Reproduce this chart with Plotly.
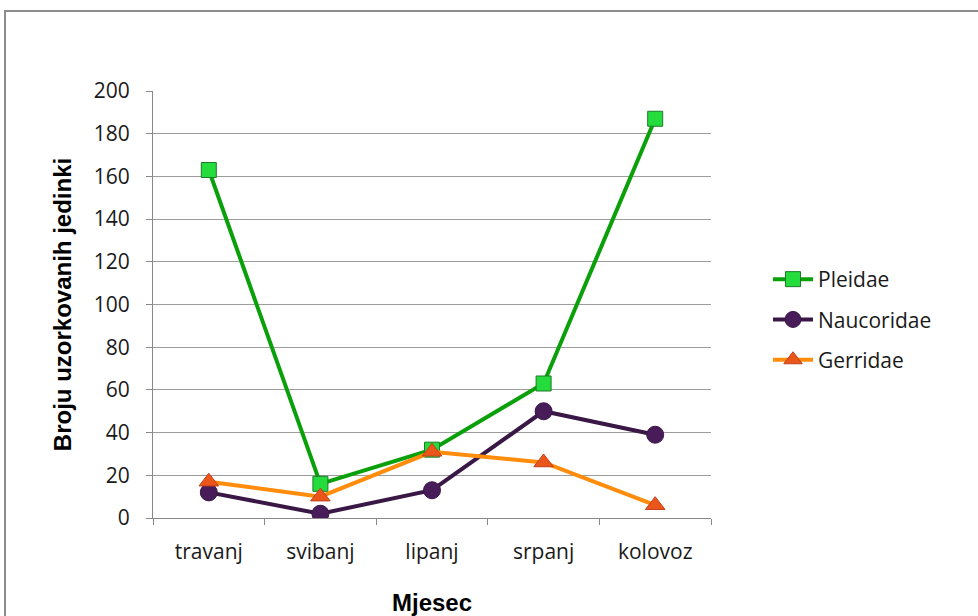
import plotly.graph_objects as go

months = ["travanj", "svibanj", "lipanj", "srpanj", "kolovoz"]
pleidae = [163, 16, 32, 63, 187]
naucoridae = [12, 2, 13, 50, 39]
gerridae = [17, 10, 31, 26, 6]
y_ticks = [0, 20, 40, 60, 80, 100, 120, 140, 160, 180, 200]

W, H = 978, 616
L, R, T, B = 153, 711, 91, 518

fig = go.Figure()
fig.add_trace(go.Scatter(
    x=months, y=pleidae, name="Pleidae", mode="lines+markers", legendgroup="a",
    line=dict(color="#0aa00a", width=4),
    marker=dict(symbol="square", size=15, color="#24dd3c", line=dict(color="#1e7a2a", width=1))))
fig.add_trace(go.Scatter(
    x=months, y=naucoridae, name="Naucoridae", mode="lines+markers", legendgroup="b",
    line=dict(color="#3a1846", width=4),
    marker=dict(symbol="circle", size=17, color="#481c58", line=dict(color="#3a1846", width=1))))
fig.add_trace(go.Scatter(
    x=months, y=gerridae, name="Gerridae", mode="lines+markers", legendgroup="c",
    line=dict(color="#ff8c0a", width=4),
    marker=dict(symbol="triangle-up", size=17, color="#ea561a", line=dict(color="#c0401a", width=1))))


def px(x):
    return (x - L) / (R - L)


def py(y):
    return (B - y) / (B - T)


fig.add_shape(type="rect", xref="paper", yref="paper",
              x0=px(5), x1=px(1000), y0=py(640), y1=py(11),
              line=dict(color="#8c8c8c", width=2), fillcolor="rgba(0,0,0,0)", layer="below")

fig.update_layout(
    width=W, height=H,
    margin=dict(l=L, r=W - R, t=T, b=H - B, autoexpand=False),
    paper_bgcolor="white", plot_bgcolor="white",
    showlegend=True,
    legend=dict(x=px(768), y=py(259), xanchor="left", yanchor="top",
                font=dict(family="Open Sans", size=21, color="#1a1a1a"),
                traceorder="grouped", tracegroupgap=10, itemwidth=40,
                bgcolor="rgba(0,0,0,0)"),
    xaxis=dict(
        type="category", range=[-0.5, 4.5], tickson="boundaries", automargin=False,
        ticks="outside", ticklen=6, tickcolor="#888888",
        showline=True, linecolor="#888888", linewidth=1, showgrid=False,
        ticklabelstandoff=15,
        tickfont=dict(family="Open Sans", size=21, color="#1a1a1a"),
        title=dict(text="<b>Mjesec</b>", font=dict(family="Liberation Sans", size=24, color="black"), standoff=34),
    ),
    yaxis=dict(
        range=[0, 200], tickvals=y_ticks, automargin=False,
        ticks="outside", ticklen=6, tickcolor="#888888",
        showline=True, linecolor="#888888", linewidth=1,
        showgrid=True, gridcolor="#9c9c9c", gridwidth=1, zeroline=False,
        ticklabelstandoff=12,
        tickfont=dict(family="Open Sans", size=21, color="#1a1a1a"),
        title=dict(text="<b>Broju uzorkovanih jedinki</b>", font=dict(family="Liberation Sans", size=24, color="black"), standoff=15),
    ),
)

fig.write_html("out.html", config={"displayModeBar": False},
               post_script="document.body.style.margin='0px';")
